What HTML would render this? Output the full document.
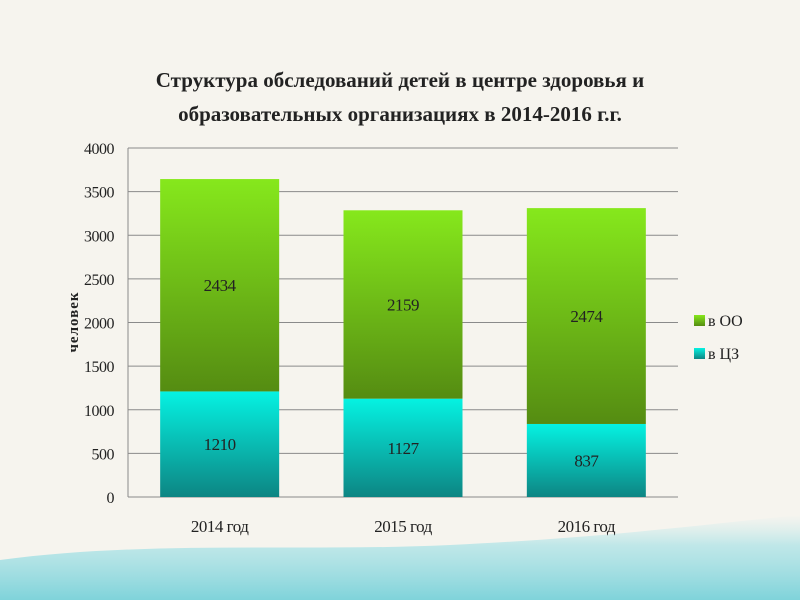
<!DOCTYPE html>
<html><head><meta charset="utf-8">
<style>
html,body{margin:0;padding:0;width:800px;height:600px;overflow:hidden;background:#f6f4ee;}
svg text{font-family:"Liberation Serif","Noto Serif CJK SC",serif;}
</style></head>
<body>
<svg id="chart" width="800" height="600" xmlns="http://www.w3.org/2000/svg">
<defs>
<linearGradient id="gOO" x1="0" y1="0" x2="0" y2="1"><stop offset="0" stop-color="#86e81c"/><stop offset="1" stop-color="#558c12"/></linearGradient>
<linearGradient id="gCZ" x1="0" y1="0" x2="0" y2="1"><stop offset="0" stop-color="#05f2e2"/><stop offset="1" stop-color="#0d8583"/></linearGradient>
<linearGradient id="wave" x1="0" y1="0" x2="0" y2="1"><stop offset="0" stop-color="#bfe9ec" stop-opacity="0"/><stop offset="0.35" stop-color="#a9e2e6" stop-opacity="0.7"/><stop offset="1" stop-color="#7fd3da"/></linearGradient>
</defs>
<rect width="800" height="600" fill="#f6f4ee"/>
<path d="M0 560 C150 540 300 552 450 545 C600 538 700 525 800 515 L800 600 L0 600 Z" fill="url(#wave)"/>
<g>
<text x="400" y="87" text-anchor="middle" font-size="21" font-weight="bold" fill="#222">Структура обследований детей в центре здоровья и</text>
<text x="400" y="121" text-anchor="middle" font-size="21" font-weight="bold" fill="#222">образовательных организациях в 2014-2016 г.г.</text>
</g>
<g id="grid"></g><g id="bars"></g><g id="axes"></g>
<text transform="translate(78,322) rotate(-90)" text-anchor="middle" font-size="15" font-weight="bold" fill="#222" letter-spacing="1">человек</text>
<g>
<g><rect x="694" y="315" width="11" height="11" fill="url(#gOO)"/><text x="708" y="326" font-size="16" fill="#222">в ОО</text></g>
<g><rect x="694" y="348" width="11" height="11" fill="url(#gCZ)"/><text x="708" y="359" font-size="16" fill="#222">в ЦЗ</text></g>
</g>
</svg>
<script>
const categories = ["2014 год","2015 год","2016 год"];
const seriesCZ = [1210,1127,837];
const seriesOO = [2434,2159,2474];
const yTicks = [0,500,1000,1500,2000,2500,3000,3500,4000];
const NS="http://www.w3.org/2000/svg";
const L=128,R=678,T=148,B=497,maxV=4000;
const y=v=>B-(v/maxV)*(B-T);
const band=(R-L)/categories.length, bw=119;
const xc=i=>L+band*(i+0.5);
function mk(tag,attrs,parent,txt){const e=document.createElementNS(NS,tag);for(const k in attrs)e.setAttribute(k,attrs[k]);if(txt!==undefined)e.textContent=txt;document.getElementById(parent).appendChild(e);return e;}
yTicks.forEach(t=>{
 const l=mk('line',{x1:L,x2:R,y1:y(t),y2:y(t),stroke:'#8a8a8a','stroke-width':1},'grid');
 
 
 const tx=mk('text',{x:L-14,y:y(t)+6,'text-anchor':'end','font-size':16,fill:'#222','letter-spacing':'-0.5'},'axes',t);
 
 
});
const ax=mk('line',{x1:L,x2:L,y1:T,y2:B,stroke:'#8a8a8a','stroke-width':1},'axes');


categories.forEach((c,i)=>{
 const x0=xc(i)-bw/2;
 const b1=mk('rect',{x:x0,y:y(seriesCZ[i]),width:bw,height:B-y(seriesCZ[i]),fill:'url(#gCZ)'},'bars');
 
 
 const top=seriesCZ[i]+seriesOO[i];
 const b2=mk('rect',{x:x0,y:y(top),width:bw,height:y(seriesCZ[i])-y(top),fill:'url(#gOO)'},'bars');
 
 
 const l1=mk('text',{x:xc(i),y:(y(seriesCZ[i])+B)/2+6,'text-anchor':'middle','font-size':17,fill:'#222','letter-spacing':'-0.5'},'bars',seriesCZ[i]);
 
 
 const l2=mk('text',{x:xc(i),y:(y(top)+y(seriesCZ[i]))/2+6,'text-anchor':'middle','font-size':17,fill:'#222','letter-spacing':'-0.5'},'bars',seriesOO[i]);
 
 
 const cl=mk('text',{x:xc(i),y:B+35,'text-anchor':'middle','font-size':17,fill:'#222','letter-spacing':'-0.5'},'axes',c);
 
 
});
</script>
</body></html>
